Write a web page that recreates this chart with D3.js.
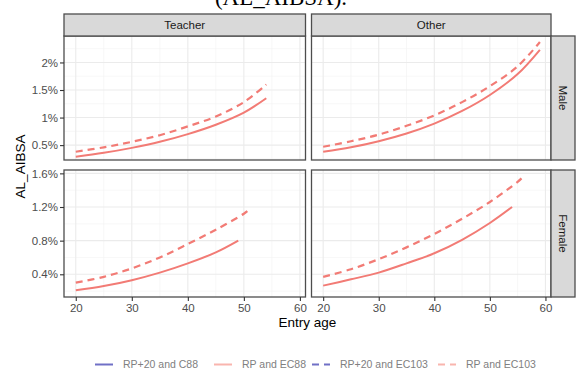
<!DOCTYPE html>
<html>
<head>
<meta charset="utf-8">
<script src="https://cdn.jsdelivr.net/npm/d3@7"></script>
<style>
  body { margin: 0; background: #fff; }
  svg { display: block; font-family: "Liberation Sans", Arial, sans-serif; }
</style>
</head>
<body>
<svg id="chart" width="576" height="380"></svg>
<script>
// facets
const occupations = ['Teacher', 'Other'];
const sexes = ['Male', 'Female'];

// x ticks and y ticks (percent) per row
const xTicks = [20, 30, 40, 50, 60];
const maleTicks = [0.5, 1, 1.5, 2];
const femaleTicks = [0.4, 0.8, 1.2, 1.6];

// values, AL_AIBSA in %
const teacherMaleAges = [20, 25, 30, 35, 40, 45, 50, 54];
const teacherMaleEC88 = [0.29, 0.36, 0.45, 0.56, 0.70, 0.87, 1.09, 1.35];
const teacherMaleEC103 = [0.38, 0.46, 0.56, 0.68, 0.84, 1.02, 1.28, 1.60];

const otherMaleAges = [20, 25, 30, 35, 40, 45, 50, 55, 59];
const otherMaleEC88 = [0.38, 0.46, 0.57, 0.71, 0.89, 1.12, 1.41, 1.79, 2.23];
const otherMaleEC103 = [0.47, 0.57, 0.69, 0.85, 1.04, 1.28, 1.57, 1.93, 2.37];

const teacherFemaleAgesEC88 = [20, 25, 30, 35, 40, 45, 49];
const teacherFemaleEC88 = [0.21, 0.26, 0.33, 0.42, 0.53, 0.66, 0.80];
const teacherFemaleAgesEC103 = [20, 25, 30, 35, 40, 45, 50, 51];
const teacherFemaleEC103 = [0.30, 0.37, 0.47, 0.60, 0.76, 0.93, 1.12, 1.17];

const otherFemaleAgesEC88 = [20, 25, 30, 35, 40, 45, 50, 54];
const otherFemaleEC88 = [0.265, 0.34, 0.42, 0.53, 0.65, 0.81, 1.01, 1.20];
const otherFemaleAgesEC103 = [20, 25, 30, 35, 40, 45, 50, 55, 56];
const otherFemaleEC103 = [0.37, 0.46, 0.58, 0.72, 0.88, 1.06, 1.26, 1.50, 1.56];

const legendLabels = ['RP+20 and C88', 'RP and EC88', 'RP+20 and EC103', 'RP and EC103'];

const lineColor = '#F27B75';
const legendColors = ['#7070C6', '#F9B5AE', '#7070C6', '#F9B5AE'];
const legendDash = [null, null, '7,5', '7,5'];

const zip = (ages, vals) => ages.map((a, i) => ({ x: a, y: vals[i] }));

const panels = [
  { col: 0, row: 0, solid: zip(teacherMaleAges, teacherMaleEC88), dashed: zip(teacherMaleAges, teacherMaleEC103) },
  { col: 1, row: 0, solid: zip(otherMaleAges, otherMaleEC88), dashed: zip(otherMaleAges, otherMaleEC103) },
  { col: 0, row: 1, solid: zip(teacherFemaleAgesEC88, teacherFemaleEC88), dashed: zip(teacherFemaleAgesEC103, teacherFemaleEC103) },
  { col: 1, row: 1, solid: zip(otherFemaleAgesEC88, otherFemaleEC88), dashed: zip(otherFemaleAgesEC103, otherFemaleEC103) }
];

const svg = d3.select('#chart');

// layout
const colX = [[64, 305.5], [311.5, 551]];
const rowY = [[36, 160], [170, 297]];
const stripTop = 14;
const stripRight = 575;

// scales
const xScales = colX.map(r => d3.scaleLinear().domain([17.9, 61]).range(r));
const yScales = [
  d3.scaleLinear().domain([0.23, 2.48]).range([rowY[0][1], rowY[0][0]]),
  d3.scaleLinear().domain([0.13, 1.64]).range([rowY[1][1], rowY[1][0]])
];
const yTicks = [maleTicks, femaleTicks];
const yMinor = [[0.25, 0.75, 1.25, 1.75, 2.25], [0.2, 0.6, 1.0, 1.4]];
const xMinor = [25, 35, 45, 55];

// cut-off caption from the page above
svg.append('text')
  .attr('x', 281)
  .attr('y', 5)
  .attr('text-anchor', 'middle')
  .style('font-family', '"Liberation Serif", "Times New Roman", serif')
  .style('font-size', '23px')
  .attr('fill', '#000')
  .text('(AL_AIBSA).');

panels.forEach(p => {
  const x = xScales[p.col];
  const y = yScales[p.row];
  const g = svg.append('g');
  const [x0, x1] = colX[p.col];
  const [y0, y1] = rowY[p.row];

  g.append('rect')
    .attr('x', x0).attr('y', y0)
    .attr('width', x1 - x0).attr('height', y1 - y0)
    .attr('fill', '#fff');

  // minor grid
  g.selectAll('.minx').data(xMinor).enter().append('line')
    .attr('x1', d => x(d)).attr('x2', d => x(d))
    .attr('y1', y0).attr('y2', y1)
    .attr('stroke', '#F2F2F2').attr('stroke-width', 0.6);
  g.selectAll('.miny').data(yMinor[p.row]).enter().append('line')
    .attr('x1', x0).attr('x2', x1)
    .attr('y1', d => y(d)).attr('y2', d => y(d))
    .attr('stroke', '#F2F2F2').attr('stroke-width', 0.6);

  // major grid
  g.selectAll('.majx').data(xTicks).enter().append('line')
    .attr('x1', d => x(d)).attr('x2', d => x(d))
    .attr('y1', y0).attr('y2', y1)
    .attr('stroke', '#EBEBEB').attr('stroke-width', 1.1);
  g.selectAll('.majy').data(yTicks[p.row]).enter().append('line')
    .attr('x1', x0).attr('x2', x1)
    .attr('y1', d => y(d)).attr('y2', d => y(d))
    .attr('stroke', '#EBEBEB').attr('stroke-width', 1.1);

  const line = d3.line()
    .x(d => x(d.x))
    .y(d => y(d.y))
    .curve(d3.curveCatmullRom.alpha(0.5));

  g.append('path')
    .datum(p.solid)
    .attr('d', line)
    .attr('fill', 'none')
    .attr('stroke', lineColor)
    .attr('stroke-width', 2);

  g.append('path')
    .datum(p.dashed)
    .attr('d', line)
    .attr('fill', 'none')
    .attr('stroke', lineColor)
    .attr('stroke-width', 2.2)
    .attr('stroke-dasharray', '7,5');

  // panel border
  g.append('rect')
    .attr('x', x0).attr('y', y0)
    .attr('width', x1 - x0).attr('height', y1 - y0)
    .attr('fill', 'none')
    .attr('stroke', '#4D4D4D')
    .attr('stroke-width', 1.3);
});

// top strips
occupations.forEach((name, i) => {
  const [x0, x1] = colX[i];
  svg.append('rect')
    .attr('x', x0).attr('y', stripTop)
    .attr('width', x1 - x0).attr('height', rowY[0][0] - stripTop)
    .attr('fill', '#D9D9D9')
    .attr('stroke', '#4D4D4D')
    .attr('stroke-width', 1.3);
  svg.append('text')
    .attr('x', (x0 + x1) / 2)
    .attr('y', (stripTop + rowY[0][0]) / 2)
    .attr('dy', '0.35em')
    .attr('text-anchor', 'middle')
    .style('font-size', '11.5px')
    .attr('fill', '#1A1A1A')
    .text(name);
});

// right strips
sexes.forEach((name, i) => {
  const [y0, y1] = rowY[i];
  const x0 = colX[1][1];
  svg.append('rect')
    .attr('x', x0).attr('y', y0)
    .attr('width', stripRight - x0).attr('height', y1 - y0)
    .attr('fill', '#D9D9D9')
    .attr('stroke', '#4D4D4D')
    .attr('stroke-width', 1.3);
  svg.append('text')
    .attr('transform', 'translate(' + ((x0 + stripRight) / 2) + ',' + ((y0 + y1) / 2) + ') rotate(90)')
    .attr('dy', '0.35em')
    .attr('text-anchor', 'middle')
    .style('font-size', '11.5px')
    .attr('fill', '#1A1A1A')
    .text(name);
});

// y axes on left column
const pct = d => d3.format('~g')(d) + '%';
[0, 1].forEach(r => {
  const ax = svg.append('g')
    .attr('transform', 'translate(' + colX[0][0] + ',0)')
    .call(d3.axisLeft(yScales[r]).tickValues(yTicks[r]).tickFormat(pct).tickSize(4).tickPadding(2));
  ax.select('.domain').remove();
  ax.selectAll('line').attr('stroke', '#333').attr('stroke-width', 1.1);
  ax.selectAll('text').attr('fill', '#4D4D4D').style('font-size', '11.5px');
});

// x axes on bottom row
[0, 1].forEach(c => {
  const ax = svg.append('g')
    .attr('transform', 'translate(0,' + rowY[1][1] + ')')
    .call(d3.axisBottom(xScales[c]).tickValues(xTicks).tickSize(4).tickPadding(3));
  ax.select('.domain').remove();
  ax.selectAll('line').attr('stroke', '#333').attr('stroke-width', 1.1);
  ax.selectAll('text').attr('fill', '#4D4D4D').style('font-size', '11.5px');
});

// axis titles
svg.append('text')
  .attr('x', (colX[0][0] + colX[1][1]) / 2)
  .attr('y', 327)
  .attr('text-anchor', 'middle')
  .style('font-size', '13.5px')
  .attr('fill', '#000')
  .text('Entry age');

svg.append('text')
  .attr('transform', 'translate(25,' + ((rowY[0][0] + rowY[1][1]) / 2) + ') rotate(-90)')
  .attr('text-anchor', 'middle')
  .style('font-size', '13.5px')
  .attr('fill', '#000')
  .text('AL_AIBSA');

// legend
const legendKeyX = [95, 214, 312, 438];
const legendY = 364.5;
const legend = svg.append('g');
legendLabels.forEach((label, i) => {
  legend.append('line')
    .attr('x1', legendKeyX[i]).attr('x2', legendKeyX[i] + 18)
    .attr('y1', legendY).attr('y2', legendY)
    .attr('stroke', legendColors[i])
    .attr('stroke-width', 2)
    .attr('stroke-dasharray', legendDash[i]);
  legend.append('text')
    .attr('x', legendKeyX[i] + 28)
    .attr('y', legendY)
    .attr('dy', '0.35em')
    .style('font-size', '10.5px')
    .attr('fill', '#808080')
    .text(label);
});
</script>
</body>
</html>
